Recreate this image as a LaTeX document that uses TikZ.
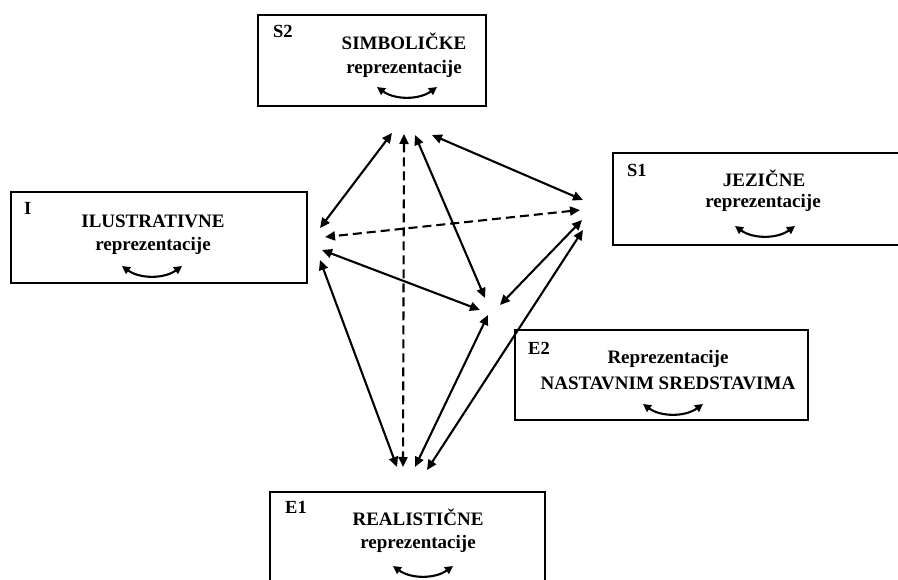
\documentclass[tikz,border=0pt]{standalone}
\usepackage{fontspec}
\setmainfont{Liberation Serif}
\usetikzlibrary{arrows.meta}
\tikzset{
  box/.style={draw, line width=1.9pt, inner sep=0pt},
  txt/.style={font=\fontsize{19}{22}\selectfont\bfseries, inner sep=0pt, anchor=base},
  lbl/.style={font=\fontsize{18.5}{20}\selectfont\bfseries, inner sep=0pt, anchor=base west},
  link/.style={line width=2.1pt, {Triangle[length=10pt,width=9pt]}-{Triangle[length=10pt,width=9pt]}},
  dlink/.style={link, dash pattern=on 9pt off 5pt},
  pics/swing/.style={code={
    \draw[line width=2.1pt, {Triangle[length=8pt,width=8pt]}-{Triangle[length=8pt,width=8pt]}]
      (-30,-5) .. controls (-12,8) and (12,8) .. (30,-5);}}
}
\begin{document}
\begin{tikzpicture}[x=1pt,y=-1pt]
\useasboundingbox (0,0) rectangle (898,580);
\clip (0,0) rectangle (898,580);
\fill[white] (0,0) rectangle (898,580);

% boxes
\node[box, minimum width=228pt, minimum height=91pt] (s2) at (372,60.5) {};
\node[box, minimum width=296pt, minimum height=91pt] (ib) at (159,237.5) {};
\node[box, minimum width=292pt, minimum height=92pt] (s1) at (759,199) {};
\node[box, minimum width=293pt, minimum height=90pt] (e2) at (661.5,375) {};
\node[box, minimum width=275pt, minimum height=98pt] (e1) at (407.5,541) {};

% S2
\node[lbl] (s2l) at (273,38) {S2};
\node[txt] (s2t1) at (404,50) {SIMBOLIČKE};
\node[txt] (s2t2) at (404,74) {reprezentacije};
\pic at (407,92) {swing};

% I
\node[lbl] (il) at (24,215) {I};
\node[txt] (it1) at (153,228) {ILUSTRATIVNE};
\node[txt] (it2) at (153,251) {reprezentacije};
\pic at (152,271) {swing};

% S1
\node[lbl] (s1l) at (627,177) {S1};
\node[txt] (s1t1) at (764,187) {JEZIČNE};
\node[txt] (s1t2) at (763,208) {reprezentacije};
\pic at (765,231) {swing};

% E2
\node[lbl] (e2l) at (528,355) {E2};
\node[txt] (e2t1) at (668,364) {Reprezentacije};
\node[txt] (e2t2) at (668,389) {NASTAVNIM SREDSTAVIMA};
\pic at (673,409) {swing};

% E1
\node[lbl] (e1l) at (285,513) {E1};
\node[txt] (e1t1) at (418,525) {REALISTIČNE};
\node[txt] (e1t2) at (418,548) {reprezentacije};
\pic at (423,571) {swing};

% connector end points
\coordinate (s2a) at (392,133); \coordinate (ia) at (320,228);
\coordinate (s2b) at (404,134); \coordinate (e1b) at (403,467);
\coordinate (s2c) at (415,135); \coordinate (e2c) at (485,298);
\coordinate (s2d) at (432,135); \coordinate (s1d) at (583,200);
\coordinate (s1e) at (580,210); \coordinate (ie) at (325,237);
\coordinate (if) at (322,250); \coordinate (e2f) at (480,310);
\coordinate (s1g) at (582,220); \coordinate (e2g) at (500,305);
\coordinate (ih) at (320,260); \coordinate (e1h) at (397,467);
\coordinate (s1i) at (583,230); \coordinate (e1i) at (427,470);
\coordinate (e2j) at (488,315); \coordinate (e1j) at (415,467);

\draw[link] (s2a) -- (ia);
\draw[dlink] (s2b) -- (e1b);
\draw[link] (s2c) -- (e2c);
\draw[link] (s2d) -- (s1d);
\draw[dlink] (s1e) -- (ie);
\draw[link] (if) -- (e2f);
\draw[link] (s1g) -- (e2g);
\draw[link] (ih) -- (e1h);
\draw[link] (s1i) -- (e1i);
\draw[link] (e2j) -- (e1j);
\end{tikzpicture}
\end{document}
